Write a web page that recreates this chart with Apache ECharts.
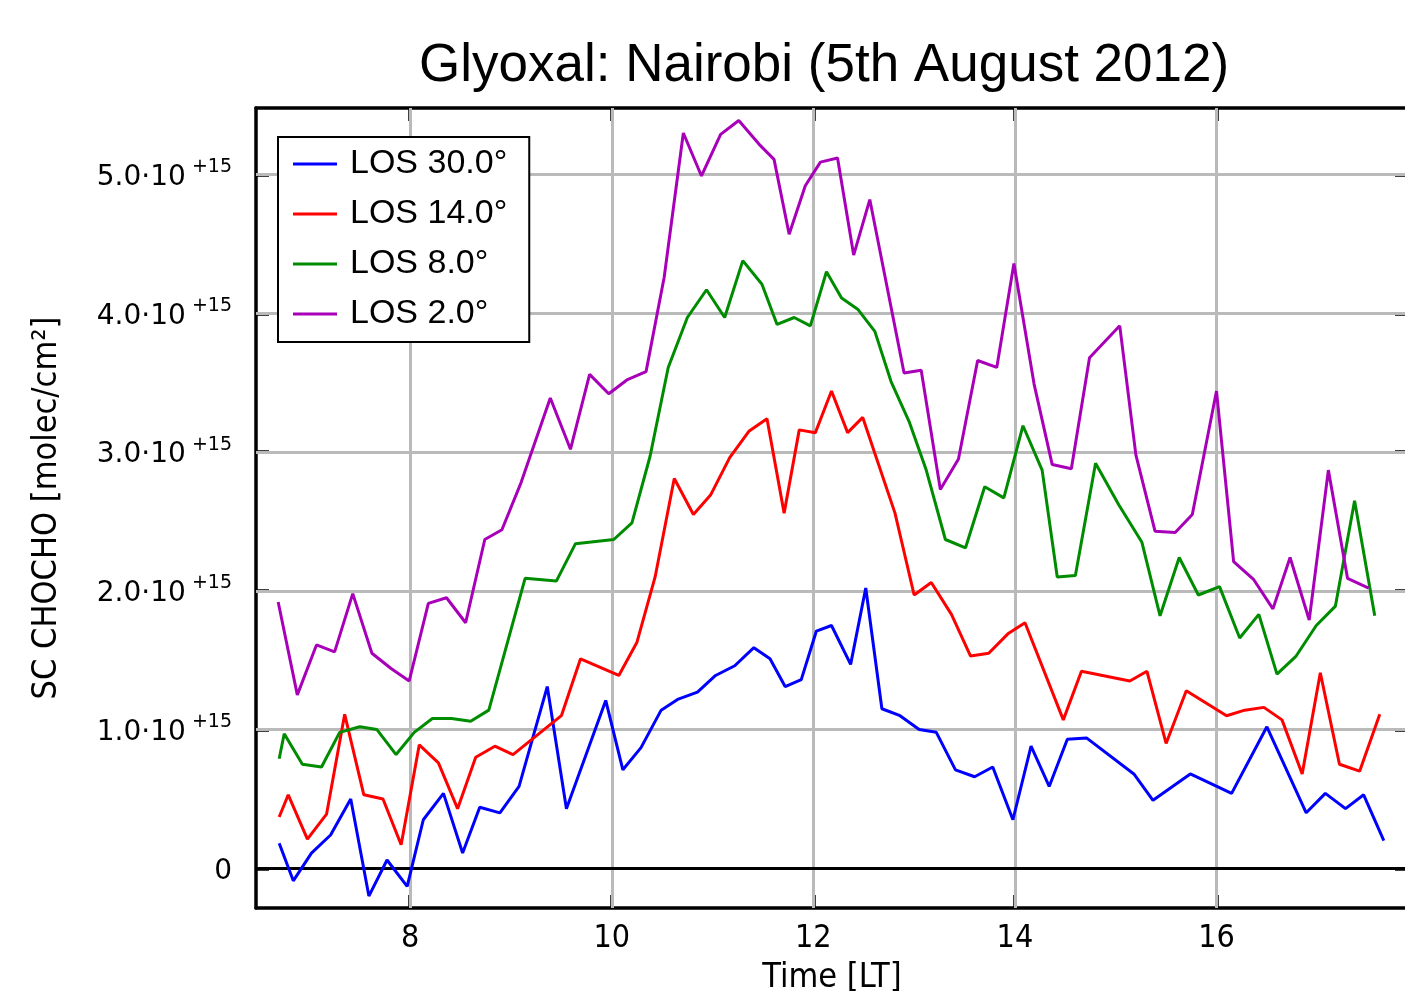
<!DOCTYPE html>
<html>
<head>
<meta charset="utf-8">
<title>Glyoxal: Nairobi</title>
<script src="https://cdn.jsdelivr.net/npm/echarts@6/dist/echarts.min.js"></script>
<style>
  html, body { margin: 0; padding: 0; background: #fff; }
  #main { width: 1405px; height: 991px; }
</style>
</head>
<body>
<div id="main"></div>
<script>
// slant columns, units of 1e15 molec/cm2, time in hours LT
var blueTime = [6.70, 6.84, 7.02, 7.21, 7.41, 7.59, 7.77, 7.97, 8.13, 8.33, 8.52, 8.69, 8.89, 9.08, 9.36, 9.55, 9.94, 10.11, 10.29, 10.49, 10.66, 10.85, 11.03, 11.22, 11.41, 11.57, 11.72, 11.88, 12.03, 12.18, 12.37, 12.52, 12.68, 12.86, 13.05, 13.22, 13.41, 13.60, 13.78, 13.98, 14.16, 14.34, 14.52, 14.71, 15.18, 15.37, 15.74, 16.15, 16.50, 16.89, 17.08, 17.28, 17.46, 17.66];
var blueVal = [0.18, -0.09, 0.11, 0.24, 0.50, -0.20, 0.06, -0.13, 0.35, 0.54, 0.11, 0.44, 0.40, 0.59, 1.31, 0.43, 1.21, 0.71, 0.87, 1.14, 1.22, 1.27, 1.39, 1.46, 1.59, 1.51, 1.31, 1.36, 1.71, 1.75, 1.47, 2.02, 1.15, 1.10, 1.00, 0.98, 0.71, 0.66, 0.73, 0.35, 0.88, 0.59, 0.93, 0.94, 0.68, 0.49, 0.68, 0.54, 1.02, 0.40, 0.54, 0.43, 0.53, 0.20];

var redTime = [6.70, 6.79, 6.98, 7.17, 7.35, 7.54, 7.73, 7.91, 8.09, 8.28, 8.47, 8.65, 8.84, 9.02, 9.50, 9.69, 10.07, 10.25, 10.43, 10.62, 10.81, 10.98, 11.17, 11.36, 11.54, 11.71, 11.86, 12.02, 12.18, 12.34, 12.49, 12.81, 13.00, 13.17, 13.37, 13.56, 13.74, 13.93, 14.10, 14.48, 14.66, 15.14, 15.31, 15.50, 15.70, 16.10, 16.28, 16.47, 16.65, 16.85, 17.03, 17.22, 17.42, 17.62];
var redVal = [0.37, 0.53, 0.21, 0.39, 1.11, 0.53, 0.50, 0.17, 0.89, 0.76, 0.43, 0.80, 0.88, 0.82, 1.10, 1.51, 1.39, 1.63, 2.10, 2.81, 2.55, 2.69, 2.96, 3.15, 3.24, 2.56, 3.16, 3.14, 3.44, 3.14, 3.25, 2.56, 1.97, 2.06, 1.83, 1.53, 1.55, 1.69, 1.77, 1.07, 1.42, 1.35, 1.42, 0.90, 1.28, 1.10, 1.14, 1.16, 1.07, 0.68, 1.41, 0.75, 0.70, 1.11];

var greenTime = [6.70, 6.75, 6.93, 7.12, 7.30, 7.50, 7.67, 7.86, 8.04, 8.22, 8.41, 8.60, 8.78, 9.14, 9.45, 9.64, 10.02, 10.20, 10.38, 10.56, 10.75, 10.94, 11.12, 11.30, 11.49, 11.64, 11.81, 11.97, 12.13, 12.28, 12.44, 12.61, 12.77, 12.95, 13.12, 13.31, 13.51, 13.70, 13.89, 14.08, 14.27, 14.42, 14.60, 14.80, 15.03, 15.26, 15.44, 15.63, 15.82, 16.03, 16.23, 16.42, 16.60, 16.79, 16.99, 17.18, 17.37, 17.57];
var greenVal = [0.79, 0.97, 0.75, 0.73, 0.98, 1.02, 1.00, 0.82, 0.98, 1.08, 1.08, 1.06, 1.14, 2.09, 2.07, 2.34, 2.37, 2.49, 2.97, 3.61, 3.97, 4.17, 3.97, 4.38, 4.21, 3.92, 3.97, 3.91, 4.30, 4.11, 4.03, 3.87, 3.51, 3.22, 2.87, 2.37, 2.31, 2.75, 2.67, 3.19, 2.87, 2.10, 2.11, 2.92, 2.62, 2.35, 1.82, 2.24, 1.97, 2.03, 1.66, 1.83, 1.40, 1.53, 1.75, 1.89, 2.65, 1.82];

var purpleTime = [6.69, 6.88, 7.07, 7.25, 7.43, 7.62, 7.81, 7.99, 8.18, 8.36, 8.55, 8.74, 8.91, 9.10, 9.39, 9.59, 9.78, 9.97, 10.15, 10.34, 10.52, 10.71, 10.89, 11.08, 11.26, 11.46, 11.61, 11.76, 11.92, 12.07, 12.24, 12.40, 12.56, 12.90, 13.07, 13.26, 13.44, 13.63, 13.82, 13.99, 14.19, 14.37, 14.56, 14.74, 15.04, 15.20, 15.39, 15.59, 15.76, 16.00, 16.17, 16.37, 16.56, 16.73, 16.92, 17.11, 17.30, 17.51];
var purpleVal = [1.92, 1.25, 1.61, 1.56, 1.98, 1.55, 1.44, 1.35, 1.91, 1.95, 1.77, 2.37, 2.44, 2.78, 3.39, 3.02, 3.56, 3.42, 3.52, 3.58, 4.26, 5.30, 4.99, 5.29, 5.39, 5.22, 5.11, 4.57, 4.92, 5.09, 5.12, 4.42, 4.82, 3.57, 3.59, 2.73, 2.95, 3.66, 3.61, 4.36, 3.49, 2.91, 2.88, 3.68, 3.91, 2.98, 2.43, 2.42, 2.55, 3.44, 2.21, 2.08, 1.87, 2.24, 1.79, 2.87, 2.09, 2.02];

var seriesNames = ['LOS 30.0°', 'LOS 14.0°', 'LOS 8.0°', 'LOS 2.0°'];
var xTicks = [8, 10, 12, 14, 16];
var yTicks = [0, 1, 2, 3, 4, 5];

var font = 'Liberation Sans, Arial, sans-serif';
var narrow = 'Liberation Sans Narrow, DejaVu Sans Condensed, Liberation Sans, sans-serif';

function pairs(t, v) {
  return t.map(function (x, i) { return [x, v[i]]; });
}

function line(name, t, v, color) {
  return {
    name: name,
    type: 'line',
    data: pairs(t, v),
    symbol: 'none',
    showSymbol: false,
    z: 3,
    lineStyle: { color: color, width: 3 },
    itemStyle: { color: color }
  };
}

var chart = echarts.init(document.getElementById('main'));

// grid lines + zero line drawn as markLines so they sit under the data
var gridLines = xTicks.map(function (x) { return { xAxis: x }; })
  .concat(yTicks.filter(function (y) { return y > 0; }).map(function (y) { return { yAxis: y }; }));
gridLines.push({ yAxis: 0, lineStyle: { color: '#000', width: 3 } });

var axisLineStyle = { color: '#000', width: 3.5 };

var option = {
  animation: false,
  backgroundColor: '#fff',
  title: {
    text: 'Glyoxal: Nairobi (5th August 2012)',
    left: 419,
    top: 40,
    padding: 0,
    textStyle: { fontFamily: font, fontSize: 53, fontWeight: 'normal', color: '#000' }
  },
  legend: {
    data: seriesNames,
    orient: 'vertical',
    left: 278,
    top: 137,
    z: 20,
    padding: [9, 22, 10, 15],
    itemGap: 14,
    itemWidth: 44,
    itemHeight: 3,
    icon: 'rect',
    borderColor: '#000',
    borderWidth: 2,
    backgroundColor: '#fff',
    textStyle: { fontFamily: font, fontSize: 34, lineHeight: 36, color: '#000', padding: [0, 0, 0, 8] }
  },
  grid: { left: 256, top: 108, width: 1152, height: 800, outerBoundsMode: 'none' },
  xAxis: [{
    type: 'value',
    min: 6.47,
    max: 17.9,
    position: 'bottom',
    name: 'Time [LT]',
    nameLocation: 'middle',
    nameGap: 53,
    nameTextStyle: { fontFamily: narrow, fontSize: 34, color: '#000' },
    axisLine: { onZero: false, lineStyle: axisLineStyle },
    axisTick: { inside: true, length: 13, customValues: xTicks, lineStyle: axisLineStyle },
    axisLabel: { customValues: xTicks, margin: 15, fontFamily: narrow, fontSize: 32, color: '#000' },
    splitLine: { show: false }
  }, {
    type: 'value',
    min: 6.47,
    max: 17.9,
    position: 'top',
    axisLine: { onZero: false, lineStyle: axisLineStyle },
    axisTick: { inside: true, length: 13, customValues: xTicks, lineStyle: axisLineStyle },
    axisLabel: { show: false },
    splitLine: { show: false }
  }],
  yAxis: [{
    type: 'value',
    min: -0.286,
    max: 5.48,
    position: 'left',
    name: 'SC CHOCHO [molec/cm²]',
    nameLocation: 'middle',
    nameRotate: 90,
    nameGap: 192,
    nameTextStyle: { fontFamily: narrow, fontSize: 34, color: '#000' },
    axisLine: { onZero: false, lineStyle: axisLineStyle },
    axisTick: { inside: true, length: 13, customValues: yTicks, lineStyle: axisLineStyle },
    axisLabel: {
      customValues: yTicks,
      margin: 24,
      formatter: function (v) {
        if (v === 0) return '{a|0}';
        return '{a|' + v.toFixed(1) + '·10}{s| +15}';
      },
      rich: {
        a: { fontFamily: 'DejaVu Sans, sans-serif', fontSize: 28, lineHeight: 34, color: '#000', verticalAlign: 'bottom' },
        s: { fontFamily: 'DejaVu Sans, sans-serif', fontSize: 19, lineHeight: 20, color: '#000', verticalAlign: 'top' }
      }
    },
    splitLine: { show: false }
  }, {
    type: 'value',
    min: -0.286,
    max: 5.48,
    position: 'right',
    axisLine: { onZero: false, lineStyle: axisLineStyle },
    axisTick: { inside: true, length: 13, customValues: yTicks, lineStyle: axisLineStyle },
    axisLabel: { show: false },
    splitLine: { show: false }
  }],
  series: [
    {
      type: 'line',
      data: [],
      silent: true,
      z: 1,
      markLine: {
        silent: true,
        z: 1,
        symbol: 'none',
        label: { show: false },
        lineStyle: { color: '#bababa', width: 3, type: 'solid' },
        data: gridLines
      }
    },
    line(seriesNames[0], blueTime, blueVal, '#0000ff'),
    line(seriesNames[1], redTime, redVal, '#ff0000'),
    line(seriesNames[2], greenTime, greenVal, '#008c00'),
    line(seriesNames[3], purpleTime, purpleVal, '#a800b8')
  ]
};

chart.setOption(option);
</script>
</body>
</html>
